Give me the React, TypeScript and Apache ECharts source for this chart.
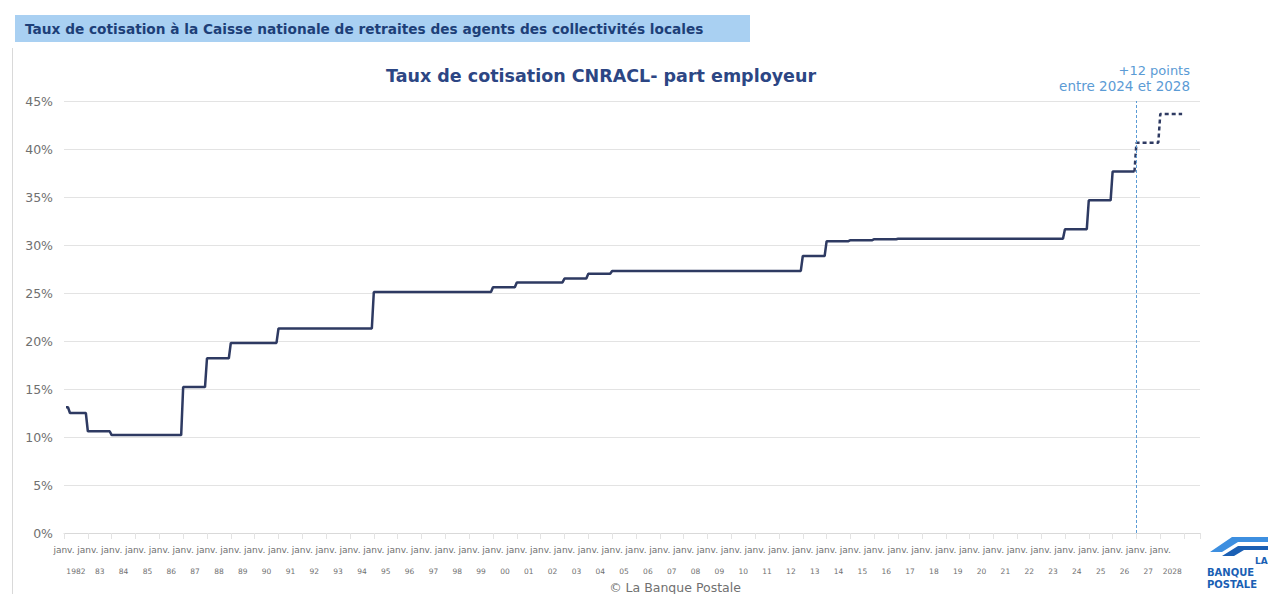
import React, { useEffect, useRef } from "react";
import * as echarts from "echarts";

// CNRACL employer contribution rate (%), each value applies from its start month
const periodStarts = [
  "1982-02", "1982-04", "1983-01", "1984-01", "1987-01", "1988-01", "1989-01",
  "1991-01", "1995-01", "2000-01", "2001-01", "2003-01", "2004-01", "2005-01",
  "2013-01", "2014-01", "2015-01", "2016-01", "2017-01", "2024-01", "2025-01",
  "2026-01", "2027-01", "2028-01",
];
const employerRates = [
  13.1, 12.5, 10.6, 10.2, 15.2, 18.2, 19.8,
  21.3, 25.1, 25.6, 26.1, 26.5, 27.0, 27.3,
  28.85, 30.4, 30.5, 30.6, 30.65, 31.65, 34.65,
  37.65, 40.65, 43.65,
];
const lastMonth = "2028-12";
const projectionStart = "2027-01";

const yearLabels = [
  "1982", "83", "84", "85", "86", "87", "88", "89", "90", "91", "92", "93", "94",
  "95", "96", "97", "98", "99", "00", "01", "02", "03", "04", "05", "06", "07",
  "08", "09", "10", "11", "12", "13", "14", "15", "16", "17", "18", "19", "20",
  "21", "22", "23", "24", "25", "26", "27", "2028",
];
const monthLabel = "janv.";
const firstYear = 1982;
const axisEnd = 2029 + 8 / 12;

const bannerText =
  "Taux de cotisation à la Caisse nationale de retraites des agents des collectivités locales";
const chartTitle = "Taux de cotisation CNRACL- part employeur";
const noteLines = ["+12 points", "entre 2024 et 2028"];
const sourceText = "© La Banque Postale";

const toYear = (m: string) => {
  const [y, mm] = m.split("-").map(Number);
  return y + (mm - 1) / 12;
};

function buildPoints() {
  const pts: [number, number][] = [];
  for (let i = 0; i < periodStarts.length; i++) {
    const start = toYear(periodStarts[i]);
    const end =
      i < periodStarts.length - 1 ? toYear(periodStarts[i + 1]) - 1 / 12 : toYear(lastMonth);
    pts.push([start, employerRates[i]]);
    if (end > start + 1e-9) pts.push([end, employerRates[i]]);
  }
  return pts;
}

const isWhole = (v: number) => Math.abs(v - Math.round(v)) < 1e-6;

export default function App() {
  const ref = useRef<HTMLDivElement>(null);

  useEffect(() => {
    if (!ref.current) return;
    const chart = echarts.init(ref.current, null, { renderer: "svg" });
    const pts = buildPoints();
    const proj = toYear(projectionStart);
    const actual = pts.filter((p) => p[0] < proj - 1e-9);
    const forecast = [actual[actual.length - 1], ...pts.filter((p) => p[0] >= proj - 1e-9)];

    const font = "DejaVu Sans";
    const grey = "#707070";

    chart.setOption({
      animation: false,
      backgroundColor: "#ffffff",
      grid: { left: 64, right: 68, top: 101, bottom: 61, containLabel: false },
      xAxis: [
        {
          type: "value",
          min: firstYear,
          max: axisEnd,
          interval: 1,
          position: "bottom",
          axisLine: { show: true, lineStyle: { color: "#d9d9d9" } },
          axisTick: { show: true, length: 6, lineStyle: { color: "#e3e3e3" } },
          splitLine: { show: false },
          axisLabel: {
            margin: 12,
            fontFamily: font,
            fontSize: 9,
            color: grey,
            formatter: (v: number) => (isWhole(v) && v <= 2028 ? monthLabel : ""),
          },
        },
        {
          type: "value",
          min: firstYear,
          max: axisEnd,
          interval: 0.5,
          position: "bottom",
          axisLine: { show: false },
          axisTick: { show: false },
          splitLine: { show: false },
          axisLabel: {
            margin: 34,
            fontFamily: font,
            fontSize: 7.5,
            color: grey,
            formatter: (v: number) => {
              if (isWhole(v)) return "";
              const idx = Math.floor(v) - firstYear;
              return yearLabels[idx] ?? "";
            },
          },
        },
      ],
      yAxis: {
        type: "value",
        min: 0,
        max: 45,
        interval: 5,
        axisLine: { show: false },
        axisTick: { show: false },
        splitLine: { lineStyle: { color: "#e3e3e3", width: 1 } },
        axisLabel: {
          margin: 11,
          fontFamily: font,
          fontSize: 12.5,
          color: grey,
          formatter: "{value}%",
        },
      },
      series: [
        {
          type: "line",
          xAxisIndex: 0,
          data: actual,
          showSymbol: false,
          symbol: "none",
          lineStyle: { color: "#2e3a62", width: 2.5 },
          z: 3,
        },
        {
          type: "line",
          xAxisIndex: 0,
          data: forecast,
          showSymbol: false,
          symbol: "none",
          lineStyle: { color: "#2e3a62", width: 2.5, type: [4, 3] },
          z: 3,
          markLine: {
            silent: true,
            symbol: "none",
            label: { show: false },
            lineStyle: { color: "#5b9bd5", width: 1, type: [3, 2] },
            data: [{ xAxis: proj }],
          },
        },
      ],
      graphic: [
        {
          type: "line",
          shape: { x1: 12.5, y1: 48, x2: 12.5, y2: 594 },
          style: { stroke: "#d9d9d9", lineWidth: 1 },
          silent: true,
        },
        {
          type: "rect",
          shape: { x: 15, y: 15, width: 735, height: 27 },
          style: { fill: "#a9d0f2" },
          silent: true,
        },
        {
          type: "text",
          x: 25,
          y: 29,
          style: {
            text: bannerText,
            font: `bold 13.7px "${font}"`,
            fill: "#1d3f78",
            verticalAlign: "middle",
          },
        },
        {
          type: "text",
          x: 601,
          y: 76,
          style: {
            text: chartTitle,
            font: `bold 17.5px "${font}"`,
            fill: "#2c4684",
            align: "center",
            verticalAlign: "middle",
          },
        },
        {
          type: "text",
          x: 1190,
          y: 70,
          style: {
            text: noteLines[0],
            font: `13px "${font}"`,
            fill: "#5b9bd5",
            align: "right",
            verticalAlign: "middle",
          },
        },
        {
          type: "text",
          x: 1190,
          y: 86,
          style: {
            text: noteLines[1],
            font: `13.5px "${font}"`,
            fill: "#5b9bd5",
            align: "right",
            verticalAlign: "middle",
          },
        },
        {
          type: "text",
          x: 675,
          y: 587,
          style: {
            text: sourceText,
            font: `12.5px "${font}"`,
            fill: grey,
            align: "center",
            verticalAlign: "middle",
          },
        },
        // brand mark, bottom right
        {
          type: "polygon",
          shape: { points: [[1210, 552], [1232, 537], [1268, 537], [1268, 542], [1238, 542], [1222, 552]] },
          style: { fill: "#3d8fe0" },
          silent: true,
        },
        {
          type: "polygon",
          shape: { points: [[1222, 556], [1238, 546], [1268, 546], [1268, 550], [1244, 550], [1234, 556]] },
          style: { fill: "#1a5fb4" },
          silent: true,
        },
        {
          type: "text",
          x: 1255,
          y: 561,
          style: { text: "LA", font: `bold 9px "${font}"`, fill: "#1a5fb4", verticalAlign: "middle" },
        },
        {
          type: "text",
          x: 1207,
          y: 572,
          style: { text: "BANQUE", font: `bold 10px "${font}"`, fill: "#1a5fb4", verticalAlign: "middle" },
        },
        {
          type: "text",
          x: 1207,
          y: 584,
          style: { text: "POSTALE", font: `bold 10px "${font}"`, fill: "#1a5fb4", verticalAlign: "middle" },
        },
      ],
    });

    return () => chart.dispose();
  }, []);

  return (
    <div
      ref={ref}
      style={{ position: "absolute", left: 0, top: 0, width: 1268, height: 594 }}
    />
  );
}
